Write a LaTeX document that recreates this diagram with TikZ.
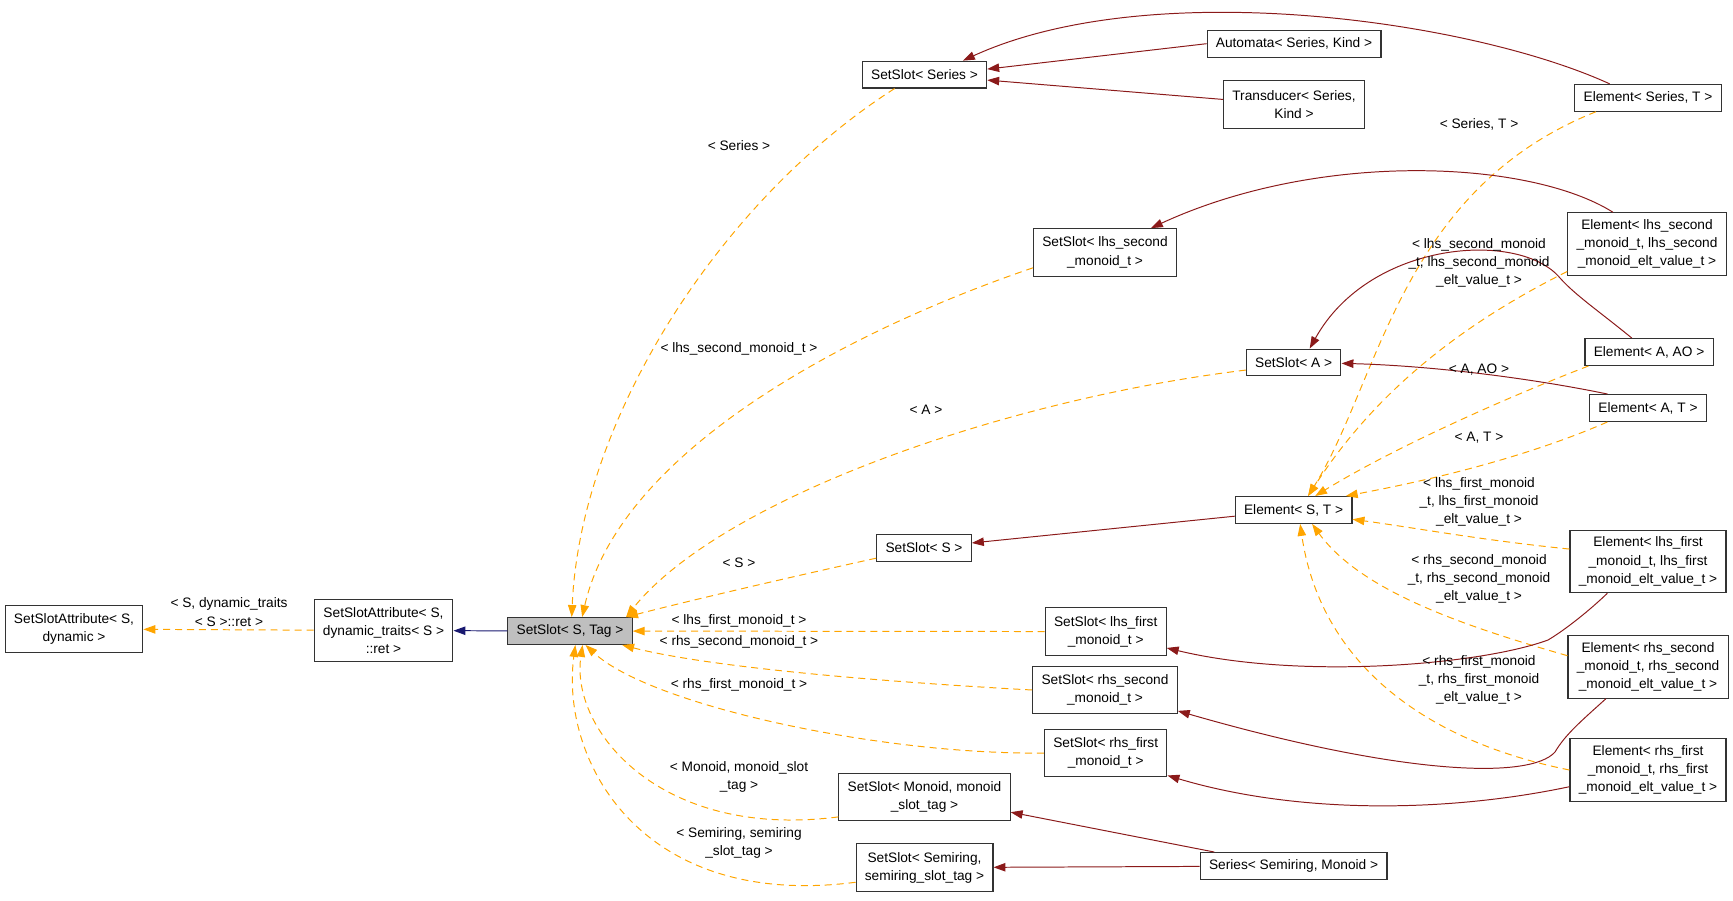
\documentclass[tikz,border=0pt]{standalone}
\usepackage{fontspec}
\setmainfont{Liberation Sans}
\usepackage{xcolor}
\usepackage{tikz}
\usetikzlibrary{arrows.meta}

\definecolor{privred}{HTML}{8B1A1A}
\definecolor{tmplorange}{HTML}{FFA500}
\definecolor{pubblue}{HTML}{191970}

\begin{document}
\begin{tikzpicture}[
    x=0.025cm, y=-0.025cm,
    font=\fontsize{9.75}{13}\selectfont,
    classnode/.style={rectangle, draw=black!80, line width=0.8pt, fill=white, align=center, inner xsep=0.22cm, inner ysep=0pt},
    oneline/.style={classnode, minimum height=0.67cm},
    twoline/.style={classnode, minimum height=1.19cm},
    threeline/.style={classnode, minimum height=1.56cm},
    current/.style={oneline, fill=black!25},
    lbl/.style={align=center, inner sep=0pt},
    privedge/.style={-{Triangle[length=8.5pt,width=6pt]}, draw=privred, line width=0.7pt},
    pubedge/.style={privedge, draw=pubblue},
    tmpledge/.style={-{Triangle[length=8.5pt,width=6pt]}, draw=tmplorange, line width=0.7pt, dash pattern=on 5pt off 3.5pt}
]
\useasboundingbox (0,0) rectangle (1733,900);

% Base classes
\node[twoline] (attrDyn) at (74,629) {SetSlotAttribute< S,\\ dynamic >};
\node[threeline] (attrTraits) at (383.5,630.5) {SetSlotAttribute< S,\\ dynamic\_traits< S >\\ ::ret >};
\node[current] (slotTag) at (570,631) {SetSlot< S, Tag >};

% SetSlot instances
\node[oneline] (slotSeries) at (924.5,74.6) {SetSlot< Series >};
\node[twoline] (slotLhsSecond) at (1105,252.5) {SetSlot< lhs\_second\\ \_monoid\_t >};
\node[oneline] (slotA) at (1293.6,362.5) {SetSlot< A >};
\node[oneline] (slotS) at (924,548) {SetSlot< S >};
\node[twoline] (slotLhsFirst) at (1105.7,631.6) {SetSlot< lhs\_first\\ \_monoid\_t >};
\node[twoline] (slotRhsSecond) at (1105,690) {SetSlot< rhs\_second\\ \_monoid\_t >};
\node[twoline] (slotRhsFirst) at (1105.7,753) {SetSlot< rhs\_first\\ \_monoid\_t >};
\node[twoline] (slotMonoid) at (924.5,797) {SetSlot< Monoid, monoid\\ \_slot\_tag >};
\node[twoline] (slotSemiring) at (924.5,867.6) {SetSlot< Semiring,\\ semiring\_slot\_tag >};

% Derived classes
\node[oneline] (automata) at (1294,43.7) {Automata< Series, Kind >};
\node[twoline] (transducer) at (1294,104.4) {Transducer< Series,\\ Kind >};
\node[oneline] (elemSeriesT) at (1648,97.8) {Element< Series, T >};
\node[threeline] (elemLhsSecond) at (1647,244) {Element< lhs\_second\\ \_monoid\_t, lhs\_second\\ \_monoid\_elt\_value\_t >};
\node[oneline] (elemAAO) at (1649,352) {Element< A, AO >};
\node[oneline] (elemAT) at (1648,408) {Element< A, T >};
\node[oneline] (elemST) at (1293.6,510) {Element< S, T >};
\node[threeline] (elemLhsFirst) at (1648,561.5) {Element< lhs\_first\\ \_monoid\_t, lhs\_first\\ \_monoid\_elt\_value\_t >};
\node[threeline] (elemRhsSecond) at (1648,667) {Element< rhs\_second\\ \_monoid\_t, rhs\_second\\ \_monoid\_elt\_value\_t >};
\node[threeline] (elemRhsFirst) at (1648,770) {Element< rhs\_first\\ \_monoid\_t, rhs\_first\\ \_monoid\_elt\_value\_t >};
\node[oneline] (series) at (1293.6,866) {Series< Semiring, Monoid >};

% Public inheritance
\draw[pubedge] (slotTag) -- (attrTraits);

% Template instances
\draw[tmpledge] (attrTraits) -- (attrDyn);
\draw[tmpledge] (slotSeries.205) .. controls (720,200) and (580,420) .. (slotTag.83);
\draw[tmpledge] (slotLhsSecond.192) .. controls (850,330) and (620,450) .. (slotTag.49);
\draw[tmpledge] (slotA.189) .. controls (1000,400) and (720,500) .. (slotTag.14);
\draw[tmpledge] (slotS.192) .. controls (800,575) and (700,598) .. (slotTag.14);
\draw[tmpledge] (slotLhsFirst) -- (slotTag);
\draw[tmpledge] (slotRhsSecond.west) .. controls (850,680) and (700,665) .. (slotTag.-15);
\draw[tmpledge] (slotRhsFirst.west) .. controls (880,755) and (650,705) .. (slotTag.-42);
\draw[tmpledge] (slotMonoid.193) .. controls (660,840) and (570,730) .. (slotTag.-48);
\draw[tmpledge] (slotSemiring.192) .. controls (640,910) and (560,760) .. (slotTag.-69);

\draw[tmpledge] (elemSeriesT.195) .. controls (1400,190) and (1380,380) .. (elemST.44);
\draw[tmpledge] (elemLhsSecond.199) .. controls (1450,330) and (1370,400) .. (elemST.44);
\draw[tmpledge] (elemAAO.193) .. controls (1500,400) and (1390,450) .. (elemST.33);
\draw[tmpledge] (elemAT.199) .. controls (1520,460) and (1420,482) .. (elemST.15);
\draw[tmpledge] (elemLhsFirst.171) .. controls (1480,540) and (1410,527) .. (elemST.-9);
\draw[tmpledge] (elemRhsSecond.172) .. controls (1460,625) and (1360,590) .. (elemST.-37);
\draw[tmpledge] (elemRhsFirst.west) .. controls (1420,740) and (1320,660) .. (elemST.-65);

% Private inheritance
\draw[privedge] (automata.west) -- (slotSeries.5);
\draw[privedge] (transducer.176) -- (slotSeries.-5);
\draw[privedge] (elemSeriesT.160) .. controls (1470,20) and (1150,-25) .. (slotSeries.20);
\draw[privedge] (elemLhsSecond.137) .. controls (1530,160) and (1320,150) .. (slotLhsSecond.28);
\draw[privedge] (elemAAO.141) .. controls (1600,312) and (1575,295) .. (1560,278) .. controls (1520,230) and (1370,240) .. (slotA.41);
\draw[privedge] (elemAT.161) .. controls (1540,380) and (1440,366) .. (slotA.-1);
\draw[privedge] (elemST.186) -- (slotS.6);
\draw[privedge] (elemLhsFirst.218) .. controls (1590,610) and (1565,630) .. (1548,640) .. controls (1480,665) and (1300,680) .. (slotLhsFirst.-15);
\draw[privedge] (elemRhsSecond.217) .. controls (1580,722) and (1565,735) .. (1555,752) .. controls (1530,780) and (1400,775) .. (slotRhsSecond.-16);
\draw[privedge] (elemRhsFirst.192) .. controls (1450,812) and (1300,815) .. (slotRhsFirst.-20);
\draw[privedge] (series.170) -- (slotMonoid.-10);
\draw[privedge] (series) -- (slotSemiring);

% Edge labels
\node[lbl] (lDyn) at (229,612) {< S, dynamic\_traits\\ < S >::ret >};
\node[lbl] (lSeries) at (739,146) {< Series >};
\node[lbl] (lLhsSecond) at (739,349) {< lhs\_second\_monoid\_t >};
\node[lbl] (lA) at (926,410) {< A >};
\node[lbl] (lS) at (739,562.5) {< S >};
\node[lbl] (lLhsFirst) at (739,621) {< lhs\_first\_monoid\_t >};
\node[lbl] (lRhsSecond) at (739,642) {< rhs\_second\_monoid\_t >};
\node[lbl] (lRhsFirst) at (739,685) {< rhs\_first\_monoid\_t >};
\node[lbl] (lMonoid) at (739,777) {< Monoid, monoid\_slot\\ \_tag >};
\node[lbl] (lSemiring) at (739,843) {< Semiring, semiring\\ \_slot\_tag >};
\node[lbl] (lSeriesT) at (1479,124) {< Series, T >};
\node[lbl] (lElemLhsSecond) at (1479,263) {< lhs\_second\_monoid\\ \_t, lhs\_second\_monoid\\ \_elt\_value\_t >};
\node[lbl] (lAAO) at (1479,370) {< A, AO >};
\node[lbl] (lAT) at (1479,437.7) {< A, T >};
\node[lbl] (lElemLhsFirst) at (1479,501.8) {< lhs\_first\_monoid\\ \_t, lhs\_first\_monoid\\ \_elt\_value\_t >};
\node[lbl] (lElemRhsSecond) at (1479,579) {< rhs\_second\_monoid\\ \_t, rhs\_second\_monoid\\ \_elt\_value\_t >};
\node[lbl] (lElemRhsFirst) at (1479,679.7) {< rhs\_first\_monoid\\ \_t, rhs\_first\_monoid\\ \_elt\_value\_t >};

\end{tikzpicture}
\end{document}
